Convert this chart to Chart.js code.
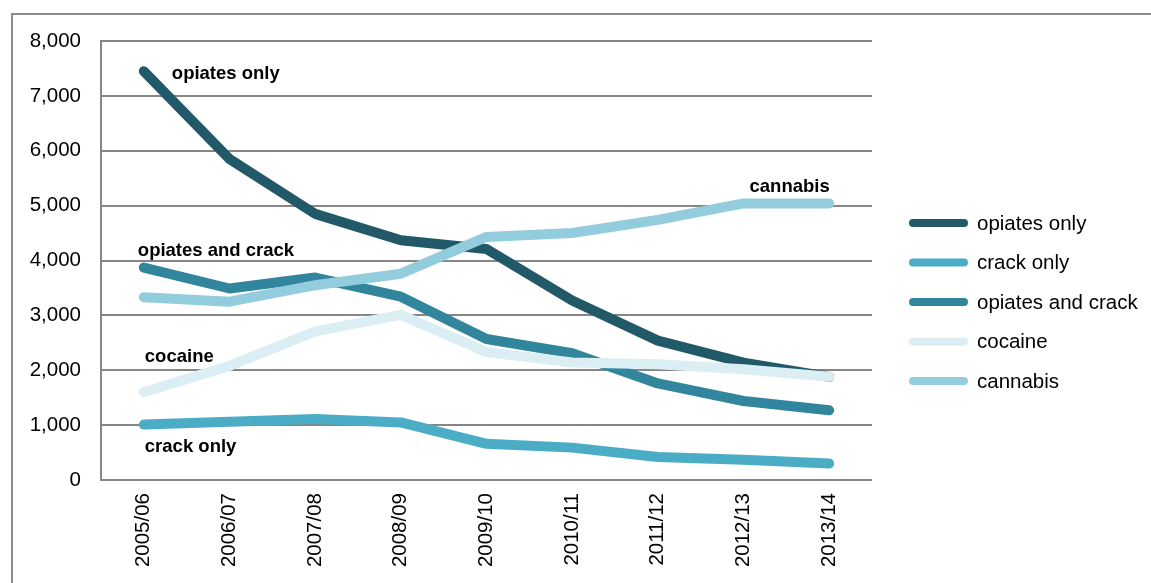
<!DOCTYPE html>
<html>
<head>
<meta charset="utf-8">
<script src="https://cdn.jsdelivr.net/npm/chart.js@4"></script>
<style>
  html, body { margin: 0; padding: 0; background: #fff; overflow: hidden; }
  #frame {
    position: absolute; left: 11px; top: 13px; width: 1200px; height: 600px;
    border-left: 2px solid #8c8c8c; border-top: 2px solid #8c8c8c;
  }
  #wrap { position: absolute; left: 0; top: 0; width: 1151px; height: 583px; }
</style>
</head>
<body>
<div id="frame"></div>
<div id="wrap"><canvas id="drugChart"></canvas></div>
<script>
const years = ["2005/06", "2006/07", "2007/08", "2008/09", "2009/10", "2010/11", "2011/12", "2012/13", "2013/14"];

const opiatesOnly = [7450, 5850, 4850, 4370, 4210, 3270, 2540, 2140, 1880];
const crackOnly = [1010, 1060, 1110, 1050, 660, 590, 420, 370, 300];
const opiatesAndCrack = [3870, 3490, 3690, 3340, 2570, 2310, 1760, 1440, 1270];
const cocaine = [1600, 2080, 2710, 3010, 2330, 2140, 2110, 2020, 1880];
const cannabis = [3330, 3250, 3550, 3760, 4430, 4500, 4740, 5040, 5040];

const yTicks = [0, 1000, 2000, 3000, 4000, 5000, 6000, 7000, 8000];

// text written next to the lines: category it hangs off and the value it sits at
const lineNotes = [
  { text: "opiates only", index: 0, value: 7400, dx: 28 },
  { text: "cannabis", index: 7, value: 5340, dx: 6 },
  { text: "opiates and crack", index: 0, value: 4180, dx: -6 },
  { text: "cocaine", index: 0, value: 2250, dx: 1 },
  { text: "crack only", index: 0, value: 610, dx: 1 }
];

const FONT = "'Liberation Sans', Arial, sans-serif";

function series(label, data, color, i) {
  return {
    label: label,
    data: data,
    borderColor: color,
    backgroundColor: color,
    borderWidth: 10,
    borderCapStyle: "round",
    borderJoinStyle: "round",
    pointRadius: 0,
    tension: 0,
    fill: false,
    order: 10 - i
  };
}

const datasets = [
  series("opiates only", opiatesOnly, "#215968", 0),
  series("crack only", crackOnly, "#4bacc6", 1),
  series("opiates and crack", opiatesAndCrack, "#31859c", 2),
  series("cocaine", cocaine, "#dbeef4", 3),
  series("cannabis", cannabis, "#93cddd", 4)
];

const notesPlugin = {
  id: "notes",
  afterDatasetsDraw(chart) {
    const c = chart.ctx;
    const xs = chart.scales.x;
    const ys = chart.scales.y;
    c.save();
    c.font = "bold 18.5px " + FONT;
    c.fillStyle = "#000";
    c.textAlign = "left";
    c.textBaseline = "middle";
    lineNotes.forEach(n => {
      c.fillText(n.text, xs.getPixelForValue(n.index) + n.dx, ys.getPixelForValue(n.value));
    });
    c.restore();
  }
};

// legend on the right, short thick line then the name
const legendPlugin = {
  id: "sideLegend",
  afterDraw(chart) {
    const c = chart.ctx;
    const left = chart.chartArea.right + 37;
    let y = 223;
    c.save();
    c.font = "20.5px " + FONT;
    c.textBaseline = "middle";
    c.textAlign = "left";
    chart.data.datasets.forEach(ds => {
      c.strokeStyle = ds.borderColor;
      c.lineWidth = 8;
      c.lineCap = "round";
      c.beginPath();
      c.moveTo(left + 4, y);
      c.lineTo(left + 55, y);
      c.stroke();
      c.fillStyle = "#000";
      c.fillText(ds.label, left + 68, y + 1);
      y += 39.5;
    });
    c.restore();
  }
};

new Chart(document.getElementById("drugChart"), {
  type: "line",
  data: { labels: years, datasets: datasets },
  options: {
    responsive: true,
    maintainAspectRatio: false,
    animation: false,
    layout: { padding: { left: 0, top: 41, right: 279, bottom: 0 } },
    plugins: {
      legend: { display: false },
      tooltip: { enabled: false }
    },
    scales: {
      x: {
        offset: true,
        grid: { display: false },
        border: { display: false },
        ticks: {
          color: "#000",
          font: { family: FONT, size: 20.5 },
          minRotation: 90,
          maxRotation: 90,
          padding: 5
        },
        afterFit(scale) { scale.height = 103; }
      },
      y: {
        min: 0,
        max: 8000,
        afterBuildTicks(scale) { scale.ticks = yTicks.map(v => ({ value: v })); },
        grid: { color: "#868686", lineWidth: 2, drawTicks: false },
        border: { display: true, color: "#868686", width: 2 },
        ticks: {
          color: "#000",
          font: { family: FONT, size: 20.5 },
          padding: 20,
          callback: v => v.toLocaleString("en-US")
        },
        afterFit(scale) { scale.width = 101; }
      }
    }
  },
  plugins: [notesPlugin, legendPlugin]
});
</script>
</body>
</html>
